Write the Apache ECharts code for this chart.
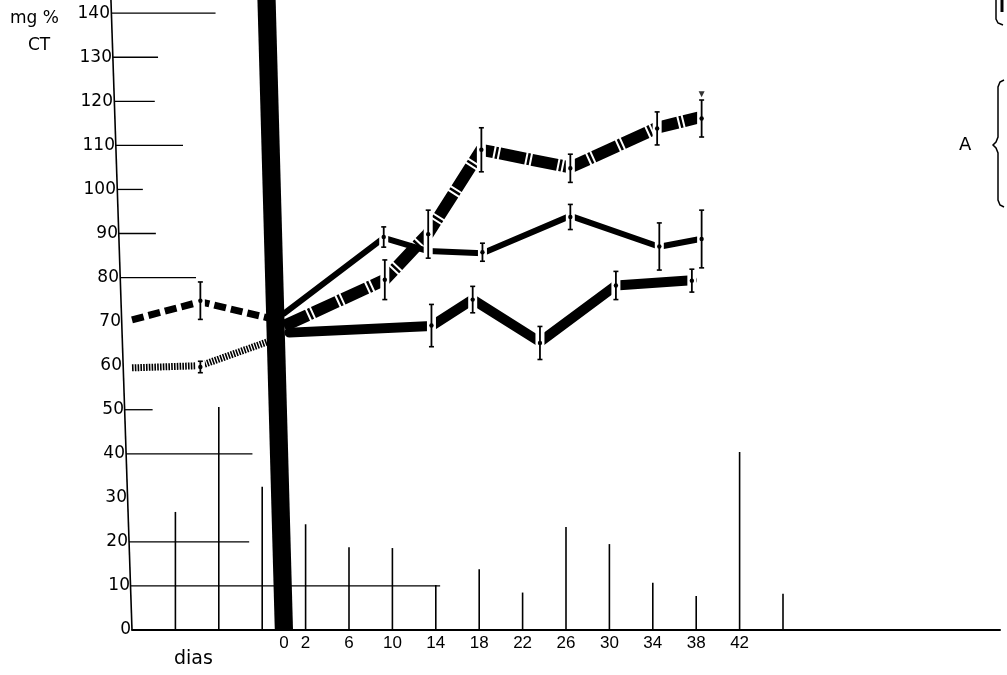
<!DOCTYPE html>
<html>
<head>
<meta charset="utf-8">
<script src="https://cdn.jsdelivr.net/npm/echarts@6/dist/echarts.min.js"></script>
<style>
  html, body { margin: 0; padding: 0; background: #fff; }
  #chart { width: 1007px; height: 675px; }
</style>
</head>
<body>
<div id="chart"></div>
<script>
// ---------- data ----------
const xTickLabels = [0, 2, 6, 10, 14, 18, 22, 26, 30, 34, 38, 42];
const yTickValues = [0, 10, 20, 30, 40, 50, 60, 70, 80, 90, 100, 110, 120, 130, 140];

// thin vertical lines rising from the baseline (day, height)
const vLineDays    = [-10, -6, -2, 2, 6, 10, 14, 18, 22, 26, 30, 34, 38, 42, 46];
const vLineHeights = [26.8, 50.6, 32.5, 24, 18.8, 18.6, 10.2, 13.8, 8.5, 23.4, 19.5, 10.7, 7.7, 40.4, 8.2];

// horizontal lines drawn from the y axis (value, end day)
const hLineValues = [140, 130, 120, 110, 100, 90, 80, 50, 40, 20, 10];
const hLineEnds   = [-6.3, -11.6, -11.9, -9.3, -13.0, -11.8, -8.1, -12.1, -2.9, -3.2, 14.4];

// before day 0
const preDays    = [-14, -7.7, -1.4];
const preDashed  = [70.4, 74.5, 70.8];
const preHatched = [59.5, 60, 65.5];

// after day 0
const daysA   = [0.5, 13.6, 17.4, 23.6, 30.6, 37.6];
const valuesA = [67.5, 69, 75, 65.4, 78.2, 79.4];
const daysB   = [0, 9.2, 13.3, 18.3, 26.4, 34.6, 38.5];
const valuesB = [71.8, 89, 86, 85.5, 94, 87, 88.8];
const daysC   = [0, 9.3, 13.3, 18.2, 26.4, 34.4, 38.5];
const valuesC = [69, 79.5, 90, 109, 105, 114, 116.5];

// error bars (day, low, high)
const errA = [[13.6, 64.3, 73.9], [17.4, 72, 78], [23.6, 61.4, 68.9], [30.6, 75, 81.4], [37.6, 76.7, 81.9]];
const errB = [[-7.7, 70.5, 79], [9.2, 86.9, 91.5], [18.3, 83.7, 87.8], [26.4, 90.9, 96.6], [34.6, 81.7, 92.4], [38.5, 82.2, 95.3]];
const errC = [[-7.7, 58.4, 61], [9.3, 75, 84], [13.3, 84.4, 95.3], [18.2, 104, 114], [26.4, 101.6, 108], [34.4, 110.1, 117.6], [38.5, 111.9, 120.3]];
const errMarkTop = [[38.5, 121.6]];

// treatment bar at day 0 (day, from, to)
const treatmentBar = [[0, 0, 143]];

// ---------- layout / style constants ----------
const X_MIN = -14, X_MAX = 66, Y_MAX = 143;
const Y_LEAN = 1.94;     // lean of the drawn y axis (days at top)
const BAR_LEAN = 1.6;    // lean of the black bar (days at top)
const BAR_HALF = 0.84;   // half width of the black bar (days)
const axisDay = v => X_MIN - Y_LEAN * v / Y_MAX;

const rich = {};
yTickValues.forEach(v => {
  rich['s' + v] = {
    fontSize: 17, fontFamily: 'DejaVu Sans', color: '#000',
    padding: [0, Math.round(21 * v / Y_MAX), 0, 0]
  };
});

function errRender(params, api) {
  const d = api.value(0), lo = api.value(1), hi = api.value(2);
  const pLo = api.coord([d, lo]), pHi = api.coord([d, hi]);
  const pm = api.coord([d, (lo + hi) / 2]);
  const x = pLo[0];
  return {
    type: 'group',
    children: [
      { type: 'rect', shape: { x: x - 4.5, y: pHi[1] - 1, width: 9, height: pLo[1] - pHi[1] + 2 }, style: { fill: '#fff' } },
      { type: 'line', shape: { x1: x, y1: pLo[1], x2: x, y2: pHi[1] }, style: { stroke: '#000', lineWidth: 1.8 } },
      { type: 'line', shape: { x1: x - 2.5, y1: pLo[1], x2: x + 2.5, y2: pLo[1] }, style: { stroke: '#000', lineWidth: 1.6 } },
      { type: 'line', shape: { x1: x - 2.5, y1: pHi[1], x2: x + 2.5, y2: pHi[1] }, style: { stroke: '#000', lineWidth: 1.6 } },
      { type: 'circle', shape: { cx: x, cy: pm[1], r: 2.2 }, style: { fill: '#000' } }
    ]
  };
}

const zip = (xs, ys) => xs.map((x, i) => [x, ys[i]]);

const chart = echarts.init(document.getElementById('chart'), null, { renderer: 'canvas' });
chart.setOption({
  animation: false,
  backgroundColor: '#fff',
  grid: { left: 132, right: 7, top: 0, bottom: 45 },
  xAxis: {
    type: 'value', min: X_MIN, max: X_MAX, interval: 2,
    axisLine: { show: true, lineStyle: { color: '#000', width: 2 } },
    axisTick: { show: false },
    splitLine: { show: false },
    axisLabel: {
      margin: 5, fontSize: 17, fontFamily: 'Liberation Sans', color: '#000',
      formatter: v => xTickLabels.includes(v) ? String(v) : ''
    }
  },
  yAxis: {
    type: 'value', min: 0, max: Y_MAX, interval: 10,
    axisLine: { show: false },
    axisTick: { show: false },
    splitLine: { show: false },
    axisLabel: {
      margin: 1, fontSize: 17, fontFamily: 'DejaVu Sans', color: '#000',
      formatter: v => yTickValues.includes(v) ? '{s' + v + '|' + v + '}' : '',
      rich: rich
    }
  },
  graphic: [
    { type: 'text', left: 10, top: 10, style: { text: 'mg %', fontSize: 17, fontFamily: 'DejaVu Sans', fill: '#000' } },
    { type: 'text', left: 28, top: 37, style: { text: 'CT', fontSize: 17, fontFamily: 'DejaVu Sans', fill: '#000' } },
    { type: 'text', left: 174, top: 650, style: { text: 'dias', fontSize: 19, fontFamily: 'DejaVu Sans', fill: '#000' } },
    { type: 'text', left: 959, top: 136, style: { text: 'A', fontSize: 18, fontFamily: 'DejaVu Sans', fill: '#000' } },
    { type: 'polyline', shape: { points: [[1004, 80], [1000, 82], [998, 87], [998, 137], [996, 142], [993, 145], [996, 148], [998, 153], [998, 200], [1000, 205], [1004, 207]] },
      style: { fill: null, stroke: '#000', lineWidth: 1.5 } },
    { type: 'polyline', shape: { points: [[996, 0], [996, 19], [998, 23], [1003, 25]] },
      style: { fill: null, stroke: '#000', lineWidth: 1.5 } },
    { type: 'line', shape: { x1: 1002, y1: 0, x2: 1002, y2: 12 },
      style: { stroke: '#000', lineWidth: 3 } }
  ],
  series: [
    { // drawn (leaning) y axis
      type: 'custom', z: 1, clip: false,
      data: [[X_MIN, 0, Y_MAX]],
      encode: { x: 0, y: [1, 2] },
      renderItem: (params, api) => {
        const d = api.value(0), lo = api.value(1), hi = api.value(2);
        const p0 = api.coord([d, lo]), p1 = api.coord([d - Y_LEAN, hi]);
        return { type: 'line', shape: { x1: p0[0], y1: p0[1], x2: p1[0], y2: p1[1] }, style: { stroke: '#000', lineWidth: 1.6 } };
      }
    },
    { // horizontal guide lines
      type: 'custom', z: 1, clip: false,
      data: zip(hLineEnds, hLineValues),
      encode: { x: 0, y: 1 },
      renderItem: (params, api) => {
        const e = api.value(0), v = api.value(1);
        const p0 = api.coord([axisDay(v), v]), p1 = api.coord([e, v]);
        return { type: 'line', shape: { x1: p0[0], y1: p0[1], x2: p1[0], y2: p1[1] }, style: { stroke: '#000', lineWidth: 1.3 } };
      }
    },
    { // thin vertical lines
      type: 'bar', barWidth: 1.6, z: 1,
      data: zip(vLineDays, vLineHeights),
      itemStyle: { color: '#000' }
    },
    { type: 'line', data: zip(preDays, preDashed), symbol: 'none', z: 2,
      lineStyle: { color: '#000', width: 7, type: [12, 5] } },
    { type: 'line', data: zip(preDays, preHatched), symbol: 'none', z: 2,
      lineStyle: { color: '#000', width: 7, type: [1.6, 1.2] } },
    { type: 'line', data: zip(daysA, valuesA), symbol: 'none', z: 2,
      lineStyle: { color: '#000', width: 10, cap: 'round', join: 'round' } },
    { type: 'line', data: zip(daysB, valuesB), symbol: 'none', z: 2,
      lineStyle: { color: '#000', width: 6, cap: 'round', join: 'round' } },
    { type: 'line', data: zip(daysC, valuesC), symbol: 'none', z: 2,
      lineStyle: { color: '#000', width: 12, type: [26, 2, 2.5, 2], join: 'round' } },
    { type: 'custom', z: 4, data: errA.concat(errB, errC), encode: { x: 0, y: [1, 2] }, renderItem: errRender },
    { type: 'scatter', z: 4, data: errMarkTop, symbol: 'triangle', symbolRotate: 180, symbolSize: 6,
      itemStyle: { color: '#000' } },
    { // black treatment bar
      type: 'custom', z: 5, clip: false,
      data: treatmentBar,
      encode: { x: 0, y: [1, 2] },
      renderItem: (params, api) => {
        const d = api.value(0), lo = api.value(1), hi = api.value(2);
        const pts = [
          api.coord([d - BAR_HALF, lo]), api.coord([d + BAR_HALF, lo]),
          api.coord([d - BAR_LEAN + BAR_HALF, hi]), api.coord([d - BAR_LEAN - BAR_HALF, hi])
        ];
        return { type: 'polygon', shape: { points: pts }, style: { fill: '#000' } };
      }
    }
  ]
});
</script>
</body>
</html>
